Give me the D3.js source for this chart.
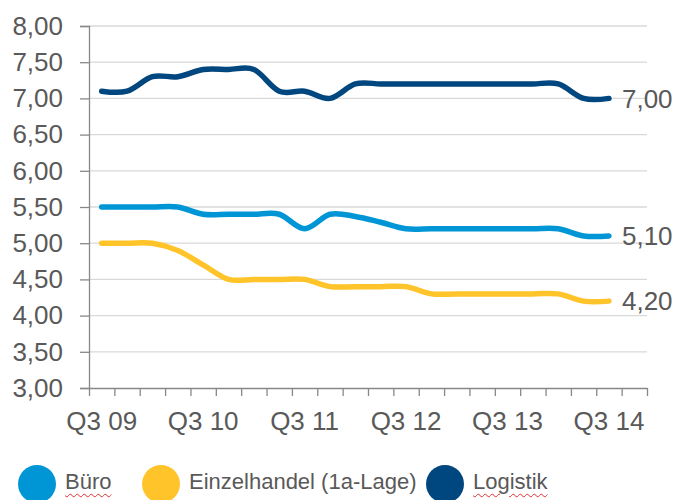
<!DOCTYPE html>
<html>
<head>
<meta charset="utf-8">
<script src="https://cdn.jsdelivr.net/npm/d3@7.9.0/dist/d3.min.js"></script>
<style>
  body { margin: 0; background: #fff; font-family: "Liberation Sans", Arial, sans-serif; }
  #wrap { position: relative; width: 680px; height: 500px; overflow: hidden; }
  .legend { position: absolute; top: 0; left: 0; }
  .leg-item { position: absolute; font-size: 22px; color: #595959; white-space: nowrap; }
  .leg-item .dot { position: absolute; width: 38px; height: 38px; border-radius: 50%; }
  .leg-item .lab { position: absolute; }
  .squiggle { text-decoration: underline wavy #e03030; text-decoration-thickness: 1px; text-underline-offset: 4px; }
</style>
</head>
<body>
<div id="wrap">
  <svg id="chart" width="680" height="500"></svg>
  <div class="legend"></div>
</div>
<script>
// quarters Q3 09 .. Q4 14 (last one has no value)
const quarters = [
  "Q3 09", "Q4 09", "Q1 10", "Q2 10", "Q3 10", "Q4 10", "Q1 11", "Q2 11",
  "Q3 11", "Q4 11", "Q1 12", "Q2 12", "Q3 12", "Q4 12", "Q1 13", "Q2 13",
  "Q3 13", "Q4 13", "Q1 14", "Q2 14", "Q3 14", "Q4 14"
];
const buero = [5.50, 5.50, 5.50, 5.50, 5.40, 5.40, 5.40, 5.40, 5.20, 5.40, 5.37,
  5.29, 5.20, 5.20, 5.20, 5.20, 5.20, 5.20, 5.20, 5.10, 5.10];
const einzelhandel = [5.00, 5.00, 5.00, 4.90, 4.70, 4.50, 4.50, 4.50, 4.50, 4.40, 4.40,
  4.40, 4.40, 4.30, 4.30, 4.30, 4.30, 4.30, 4.30, 4.20, 4.20];
const logistik = [7.10, 7.10, 7.30, 7.30, 7.40, 7.40, 7.40, 7.10, 7.10, 7.00, 7.20,
  7.20, 7.20, 7.20, 7.20, 7.20, 7.20, 7.20, 7.20, 7.00, 7.00];
const yTicks = [3, 3.5, 4, 4.5, 5, 5.5, 6, 6.5, 7, 7.5, 8];
const seriesNames = ["Büro", "Einzelhandel (1a-Lage)", "Logistik"];
const seriesColors = ["#0096d6", "#ffc429", "#00467f"];

const series = [buero, einzelhandel, logistik].map((values, i) => ({
  name: seriesNames[i],
  color: seriesColors[i],
  values
}));

const fmt = v => d3.format(".2f")(v).replace(".", ",");
const textColor = "#595959";

const svg = d3.select("#chart");
const x = d3.scaleBand().domain(quarters).range([89, 647]).padding(0);
const xi = i => x(quarters[i]) + x.bandwidth() / 2;
const y = d3.scaleLinear().domain([3, 8]).range([388, 26]);

// gridlines
svg.append("g")
  .selectAll("line")
  .data(yTicks.slice(1))
  .join("line")
  .attr("x1", 89).attr("x2", 647)
  .attr("y1", d => y(d)).attr("y2", d => y(d))
  .attr("stroke", "#d9d9d9").attr("stroke-width", 1.3);

// y axis
const yAxis = svg.append("g")
  .attr("transform", "translate(89,0)")
  .call(d3.axisLeft(y).tickValues(yTicks).tickSize(9).tickPadding(17).tickFormat(fmt));
yAxis.select(".domain").attr("stroke", "#888").attr("stroke-width", 1.3);
yAxis.selectAll(".tick line").attr("stroke", "#888").attr("stroke-width", 1.3);
yAxis.selectAll("text")
  .attr("fill", textColor)
  .attr("font-size", 26)
  .attr("font-family", "Liberation Sans, Arial, sans-serif");

// x axis: tick marks on category boundaries
const xEdges = d3.scaleLinear().domain([0, quarters.length]).range(x.range());
const xAxis = svg.append("g")
  .attr("transform", "translate(0,388)")
  .call(d3.axisBottom(xEdges).tickValues(d3.range(quarters.length + 1)).tickSize(8).tickSizeOuter(0).tickFormat(""));
xAxis.select(".domain").attr("stroke", "#888").attr("stroke-width", 1.3);
xAxis.selectAll(".tick line").attr("stroke", "#888").attr("stroke-width", 1.3);

svg.append("g")
  .selectAll("text")
  .data(quarters.filter(q => q.startsWith("Q3")))
  .join("text")
  .attr("x", d => x(d) + x.bandwidth() / 2)
  .attr("y", 430)
  .attr("text-anchor", "middle")
  .attr("fill", textColor)
  .attr("font-size", 26)
  .text(d => d);

// lines
const line = d3.line()
  .x((d, i) => xi(i))
  .y(d => y(d))
  .curve(d3.curveCardinal.tension(0));

svg.append("g")
  .selectAll("path")
  .data(series)
  .join("path")
  .attr("d", d => line(d.values))
  .attr("fill", "none")
  .attr("stroke", d => d.color)
  .attr("stroke-width", 5.5)
  .attr("stroke-linecap", "round")
  .attr("stroke-linejoin", "round");

// end labels
svg.append("g")
  .selectAll("text")
  .data(series)
  .join("text")
  .attr("x", d => xi(d.values.length - 1) + 13)
  .attr("y", d => y(d.values[d.values.length - 1]))
  .attr("dy", "0.35em")
  .attr("fill", textColor)
  .attr("font-size", 26)
  .text(d => fmt(d.values[d.values.length - 1]));

// legend
const legendX = [18, 142, 426];
d3.select(".legend")
  .selectAll("div")
  .data(series)
  .join("div")
  .attr("class", "leg-item")
  .style("left", (d, i) => legendX[i] + "px")
  .style("top", "465px")
  .html((d, i) => `
    <span class="dot" style="background:${d.color};left:0;top:0"></span>
    <span class="lab ${i === 1 ? "" : "squiggle"}" style="left:47px;top:4px">${d.name}</span>
  `);
</script>
</body>
</html>
